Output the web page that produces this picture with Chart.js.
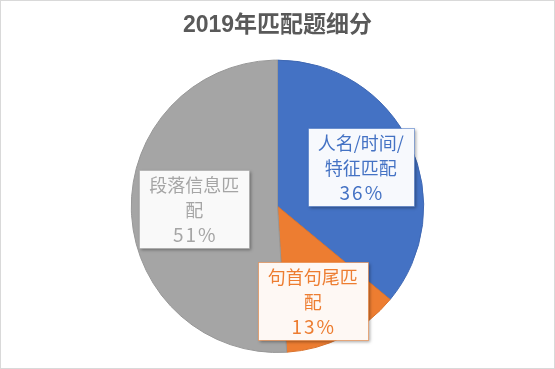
<!DOCTYPE html>
<html>
<head>
<meta charset="utf-8">
<script src="https://cdn.jsdelivr.net/npm/chart.js@4/dist/chart.umd.min.js"></script>
<style>
  html, body { margin: 0; padding: 0; background: #ffffff; }
  #wrap { width: 555px; height: 369px; box-sizing: border-box; border: 1px solid #d9d9d9; position: relative; background: #fff; }
  canvas { display: block; }
</style>
</head>
<body>
<div id="wrap"><canvas id="c"></canvas></div>
<script>
// ---- data ----
const chartTitle = '2019年匹配题细分';
const categories = ['人名/时间/特征匹配', '句首句尾匹配', '段落信息匹配'];
const percentValues = [36, 13, 51];
const sliceColors = ['#4472C4', '#ED7D31', '#A5A5A5'];
const sliceEdgeColors = ['#3f68b3', '#d9722c', '#979797'];
const labelFills = ['#f7f9fd', '#fef8f4', '#f9f9f9'];

// label placement (fraction of radius, angular shift in degrees)
const labelRadial = [0.63, 0.69, 0.57];
const labelAngleShift = [0, 6.5, 0];

const FONT = '"Noto Sans CJK SC", "Liberation Sans", sans-serif';

function wrapChars(ctx, text, maxW) {
  const lines = [];
  let cur = '';
  for (const ch of text) {
    const t = cur + ch;
    if (cur && ctx.measureText(t).width > maxW) { lines.push(cur); cur = ch; }
    else cur = t;
  }
  if (cur) lines.push(cur);
  return lines;
}

const boxLabels = {
  id: 'boxLabels',
  afterDatasetsDraw(chart) {
    const ctx = chart.ctx;
    const meta = chart.getDatasetMeta(0);
    ctx.save();
    meta.data.forEach((arc, i) => {
      const p = arc.getProps(['x', 'y', 'startAngle', 'endAngle', 'outerRadius'], true);
      const mid = (p.startAngle + p.endAngle) / 2 + labelAngleShift[i] * Math.PI / 180;
      const r = p.outerRadius * labelRadial[i];
      const cx = p.x + Math.cos(mid) * r;
      const cy = p.y + Math.sin(mid) * r;
      ctx.font = '18px ' + FONT;
      const lines = wrapChars(ctx, categories[i], 96);
      const pct = percentValues[i] + '%';
      const lh = 24.5;
      let maxW = 0;
      lines.forEach(l => { maxW = Math.max(maxW, ctx.measureText(l).width); });
      const w = Math.round(maxW + 20);
      const nLines = lines.length + 1;
      const h = Math.round(nLines * lh + 4);
      const x0 = Math.round(cx - w / 2) + 0.5;
      const y0 = Math.round(cy - h / 2) + 0.5;
      // shadow
      ctx.save();
      ctx.shadowColor = 'rgba(0,0,0,0.35)';
      ctx.shadowBlur = 3;
      ctx.shadowOffsetX = 1.5;
      ctx.shadowOffsetY = 1.5;
      ctx.fillStyle = labelFills[i];
      ctx.fillRect(x0, y0, w, h);
      ctx.restore();
      ctx.strokeStyle = sliceColors[i];
      ctx.globalAlpha = 0.55;
      ctx.lineWidth = 1;
      ctx.strokeRect(x0, y0, w, h);
      ctx.globalAlpha = 1;
      ctx.fillStyle = sliceColors[i];
      ctx.textAlign = 'center';
      ctx.textBaseline = 'middle';
      const top = cy - (nLines * lh) / 2 + lh / 2;
      lines.forEach((l, k) => ctx.fillText(l, cx, top + k * lh + 1));
      // percentage line, slightly wider spacing
      ctx.font = '19px ' + FONT;
      ctx.letterSpacing = '2px';
      ctx.fillText(pct, cx + 1, top + lines.length * lh + 1);
      ctx.letterSpacing = '0px';
    });
    ctx.restore();
  }
};

new Chart(document.getElementById('c'), {
  type: 'pie',
  data: {
    labels: categories,
    datasets: [{
      data: percentValues,
      backgroundColor: sliceColors,
      borderColor: sliceEdgeColors,
      borderWidth: 1
    }]
  },
  options: {
    responsive: true,
    maintainAspectRatio: false,
    animation: false,
    events: [],
    layout: { padding: { top: 0, bottom: 15, left: 0, right: 0 } },
    plugins: {
      legend: { display: false },
      tooltip: { enabled: false },
      title: {
        display: true,
        text: chartTitle,
        color: '#595959',
        font: { family: '"Liberation Sans", "Noto Sans CJK SC", sans-serif', size: 23, weight: 'bold', lineHeight: 1.2 },
        padding: { top: 11, bottom: 20 }
      }
    }
  },
  plugins: [boxLabels]
});
</script>
</body>
</html>
